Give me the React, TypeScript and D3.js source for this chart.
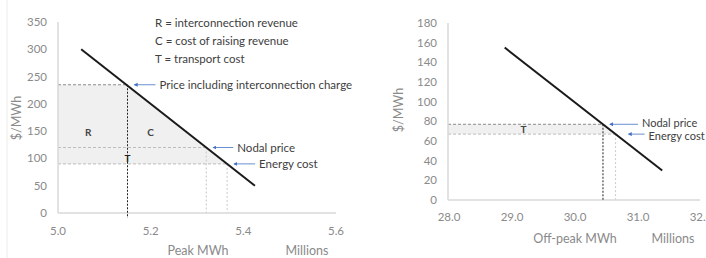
import React from "react";
import * as d3 from "d3";

// Peak chart data
const peakXTicks = [5.0, 5.2, 5.4, 5.6];
const peakYTicks = [0, 50, 100, 150, 200, 250, 300, 350];
const peakLineX = [5.05, 5.425];
const peakLineY = [300, 50];
const peakPrices = [235, 120, 90]; // price incl. charge, nodal, energy
const peakQty = [5.15, 5.32, 5.365];
const peakLabels = ["Price including interconnection charge", "Nodal price", "Energy cost"];
const legendLines = ["R = interconnection revenue", "C = cost of raising revenue", "T = transport cost"];

// Off-peak chart data
const offXTicks = [28.0, 29.0, 30.0, 31.0, 32.0];
const offYTicks = [0, 20, 40, 60, 80, 100, 120, 140, 160, 180];
const offLineX = [28.9, 31.4];
const offLineY = [155, 30];
const offPrices = [77, 67]; // nodal, energy
const offQty = [30.46, 30.66];
const offLabels = ["Nodal price", "Energy cost"];

const FONT = "Lato, 'Open Sans', sans-serif";
const TICK = "#8a8a8a";
const TXT = "#404040";
const AXIS = "#d9d9d9";
const BLUE = "#4472c4";
const FILL = "#f0f0f0";

function Arrow({ x1, x2, y, label, ty = 0, fs = 11.5 }: { x1: number; x2: number; y: number; label: string; ty?: number; fs?: number }) {
  return (
    <g>
      <line x1={x2} y1={y} x2={x1 + 4} y2={y} stroke={BLUE} strokeWidth={0.8} markerEnd="url(#ah)" />
      <text x={x2 + 4} y={y + 4 + ty} fontSize={fs} fill={TXT} fontFamily={FONT}>{label}</text>
    </g>
  );
}

function PeakChart() {
  const x = d3.scaleLinear().domain([5.0, 5.6]).range([58, 336]);
  const y = d3.scaleLinear().domain([0, 350]).range([213, 22]);
  const line = d3.line<number>().x((_, i) => x(peakLineX[i])).y((d) => y(d));
  const [pc, np, ec] = peakPrices;
  const [q0, q1, q2] = peakQty;
  const poly: [number, number][] = [
    [x(5.0), y(pc)], [x(q0), y(pc)], [x(q2), y(ec)], [x(5.0), y(ec)],
  ];
  return (
    <g fontFamily={FONT}>
      <line x1={7} y1={0} x2={7} y2={258} stroke="#ececec" />
      <path d={d3.line()(poly)! + "Z"} fill={FILL} />
      {/* dashed guides */}
      <line x1={x(5.0)} x2={x(q0)} y1={y(pc)} y2={y(pc)} stroke="#8c8c8c" strokeDasharray="3,2" />
      <line x1={x(5.0)} x2={x(q1)} y1={y(np)} y2={y(np)} stroke="#bdbdbd" strokeDasharray="3,2" />
      <line x1={x(5.0)} x2={x(q2)} y1={y(ec)} y2={y(ec)} stroke="#bdbdbd" strokeDasharray="3,2" />
      <line x1={x(q1)} x2={x(q1)} y1={y(np)} y2={y(0)} stroke="#c8c8c8" strokeDasharray="2,2" />
      <line x1={x(q2)} x2={x(q2)} y1={y(ec)} y2={y(0)} stroke="#c8c8c8" strokeDasharray="2,2" />
      {/* axes */}
      <line x1={x(5.0)} x2={x(5.0)} y1={y(350)} y2={y(0)} stroke={AXIS} strokeWidth={1.5} />
      <line x1={x(5.0)} x2={x(5.6)} y1={y(0)} y2={y(0)} stroke={AXIS} strokeWidth={1.5} />
      <line x1={x(q0)} x2={x(q0)} y1={y(pc)} y2={y(0) + 5} stroke="#222" strokeDasharray="2,1.5" />
      {peakYTicks.map((t) => (
        <text key={t} x={47} y={y(t) + 4} textAnchor="end" fontSize={11.5} fill={TICK}>{t}</text>
      ))}
      {peakXTicks.map((t) => (
        <text key={t} x={x(t)} y={235} textAnchor="middle" fontSize={11.5} fill={TICK}>{t.toFixed(1)}</text>
      ))}
      <path d={line(peakLineY)!} stroke="#1a1a1a" strokeWidth={2} fill="none" />
      <text x={x(5.065)} y={y(148) + 4} fontSize={10} fontWeight="bold" fill="#444" textAnchor="middle">R</text>
      <text x={x(5.2)} y={y(148) + 4} fontSize={10} fontWeight="bold" fill="#444" textAnchor="middle">C</text>
      <text x={x(q0)} y={y(101) + 4} fontSize={10} fontWeight="bold" fill="#222" textAnchor="middle">T</text>
      <Arrow x1={x(q0) + 3} x2={x(q0) + 28} y={y(pc)} label={peakLabels[0]} />
      <Arrow x1={x(q1) + 3} x2={x(q1) + 27} y={y(np)} label={peakLabels[1]} />
      <Arrow x1={x(q2) + 3} x2={x(q2) + 28} y={y(ec)} label={peakLabels[2]} />
      {legendLines.map((s, i) => (
        <text key={s} x={155} y={27 + i * 18} fontSize={11.5} fill={TXT}>{s}</text>
      ))}
      <text transform={`translate(21,118) rotate(-90)`} textAnchor="middle" fontSize={12.5} fill={TICK}>$/MWh</text>
      <text x={198} y={255} textAnchor="middle" fontSize={12.5} fill={TICK}>Peak MWh</text>
      <text x={307} y={255} textAnchor="middle" fontSize={12.5} fill={TICK}>Millions</text>
    </g>
  );
}

function OffPeakChart() {
  const x = d3.scaleLinear().domain([28, 32]).range([448, 700]);
  const y = d3.scaleLinear().domain([0, 180]).range([200, 23]);
  const line = d3.line<number>().x((_, i) => x(offLineX[i])).y((d) => y(d));
  const [np, ec] = offPrices;
  const [q0, q1] = offQty;
  const poly: [number, number][] = [
    [x(28), y(np)], [x(q0), y(np)], [x(q1), y(ec)], [x(28), y(ec)],
  ];
  return (
    <g fontFamily={FONT}>
      <path d={d3.line()(poly)! + "Z"} fill={FILL} />
      <line x1={x(28)} x2={x(q0)} y1={y(np)} y2={y(np)} stroke="#8c8c8c" strokeDasharray="3,2" />
      <line x1={x(28)} x2={x(q1)} y1={y(ec)} y2={y(ec)} stroke="#bdbdbd" strokeDasharray="3,2" />
      <line x1={x(q1)} x2={x(q1)} y1={y(ec)} y2={y(0)} stroke="#c8c8c8" strokeDasharray="2,2" />
      <line x1={x(28)} x2={x(28)} y1={y(180)} y2={y(0)} stroke={AXIS} strokeWidth={1.5} />
      <line x1={x(28)} x2={x(32)} y1={y(0)} y2={y(0)} stroke={AXIS} strokeWidth={1.5} />
      <line x1={x(q0)} x2={x(q0)} y1={y(np)} y2={y(0)} stroke="#222" strokeDasharray="2,1.5" />
      {offYTicks.map((t) => (
        <text key={t} x={437} y={y(t) + 4} textAnchor="end" fontSize={11.5} fill={TICK}>{t}</text>
      ))}
      {offXTicks.map((t) => (
        <text key={t} x={x(t) + 1} y={221} textAnchor="middle" fontSize={11.5} fill={TICK}>{t.toFixed(1)}</text>
      ))}
      <path d={line(offLineY)!} stroke="#1a1a1a" strokeWidth={2} fill="none" />
      <text x={x(29.2)} y={y(72) + 4} fontSize={10} fontWeight="bold" fill="#444" textAnchor="middle">T</text>
      <Arrow x1={x(q0) + 3} x2={x(q0) + 35} y={y(np)} label={offLabels[0]} ty={-1} fs={11} />
      <Arrow x1={x(q1) + 9} x2={x(q1) + 29} y={y(ec)} label={offLabels[1]} ty={1.5} fs={11} />
      <text transform={`translate(403,110) rotate(-90)`} textAnchor="middle" fontSize={12.5} fill={TICK}>$/MWh</text>
      <text x={575} y={243} textAnchor="middle" fontSize={12.5} fill={TICK}>Off-peak MWh</text>
      <text x={673} y={243} textAnchor="middle" fontSize={12.5} fill={TICK}>Millions</text>
    </g>
  );
}

export default function App() {
  return (
    <svg width={706} height={258} style={{ position: "absolute", left: 0, top: 0, background: "#fff" }}>
      <defs>
        <marker id="ah" viewBox="0 0 10 10" refX="8" refY="5" markerWidth="5" markerHeight="5" orient="auto">
          <path d="M0,0 L10,5 L0,10 Z" fill={BLUE} />
        </marker>
      </defs>
      <PeakChart />
      <OffPeakChart />
    </svg>
  );
}
